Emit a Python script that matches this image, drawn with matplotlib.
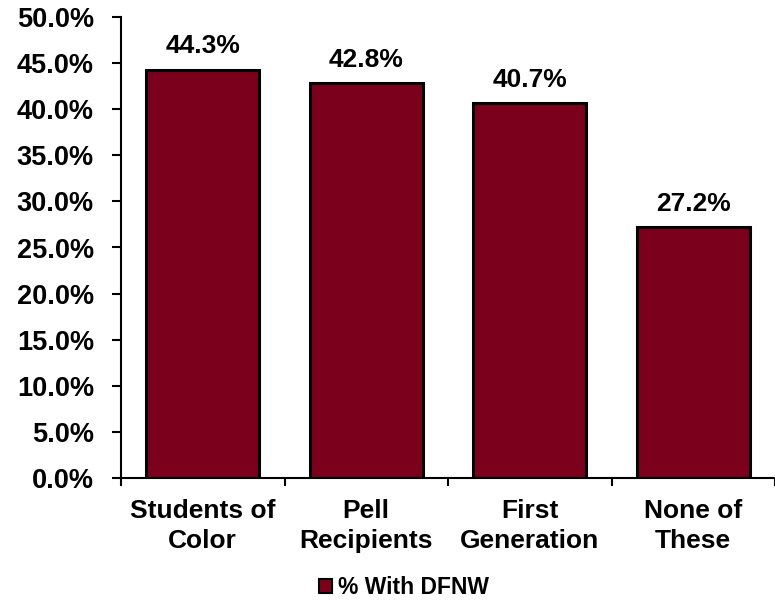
import matplotlib
matplotlib.use("Agg")
import matplotlib.pyplot as plt
from matplotlib.ticker import FixedLocator, FuncFormatter
from matplotlib.patches import Patch

categories = ["Students of\nColor", "Pell\nRecipients", "First\nGeneration", "None of\nThese"]
values = [44.3, 42.8, 40.7, 27.2]
series_name = "% With DFNW"

bar_color = "#7A001C"
plt.rcParams["font.family"] = ["Liberation Sans", "DejaVu Sans"]
plt.rcParams["font.weight"] = "bold"

fig = plt.figure(figsize=(7.75, 6.04), dpi=100)
ax = fig.add_axes([121 / 775, 1 - 478 / 604, 1 - 121 / 775, (478 - 17) / 604])

x = list(range(len(categories)))
bars = ax.bar(x, values, width=0.69, color=bar_color, edgecolor="black", linewidth=2.2, zorder=3)

for xi, v in zip(x, values):
    ax.annotate(f"{v:.1f}%", (xi, v), xytext=(0, 8), textcoords="offset points",
                ha="center", va="bottom", fontsize=19, fontweight="bold")

ax.set_xlim(-0.5, len(categories) - 0.5)
ax.set_ylim(0, 50)
ax.yaxis.set_major_locator(FixedLocator([i * 5 for i in range(11)]))
ax.yaxis.set_major_formatter(FuncFormatter(lambda v, p: f"{v:.1f}%"))

# category boundaries carry the tick marks, centers carry the labels
ax.xaxis.set_major_locator(FixedLocator([i - 0.5 for i in range(len(categories) + 1)]))
ax.xaxis.set_major_formatter(FuncFormatter(lambda v, p: ""))
ax.xaxis.set_minor_locator(FixedLocator(x))
ax.set_xticklabels(categories, minor=True)
ax.tick_params(axis="x", which="minor", length=0, pad=15, labelsize=19)
ax.tick_params(axis="x", which="major", length=5.5, width=1.5, direction="out")
ax.tick_params(axis="y", length=6.5, width=1.5, direction="out", pad=13, labelsize=19.5)
for lbl in ax.get_xticklabels(minor=True):
    lbl.set_fontweight("bold")
    lbl.set_linespacing(1.3)
for lbl in ax.get_yticklabels():
    lbl.set_fontweight("bold")

for s in ["top", "right"]:
    ax.spines[s].set_visible(False)
for s in ["left", "bottom"]:
    ax.spines[s].set_linewidth(1.5)
    ax.spines[s].set_color("black")

handle = Patch(facecolor=bar_color, edgecolor="black", linewidth=1.5)
fig.legend([handle], [series_name], loc="center", bbox_to_anchor=(404 / 775, 1 - 588 / 604),
           frameon=False, prop={"weight": "bold", "size": 16.5}, handlelength=0.55, handleheight=0.55,
           handletextpad=0.25)

fig.savefig("out.png", dpi=100)
